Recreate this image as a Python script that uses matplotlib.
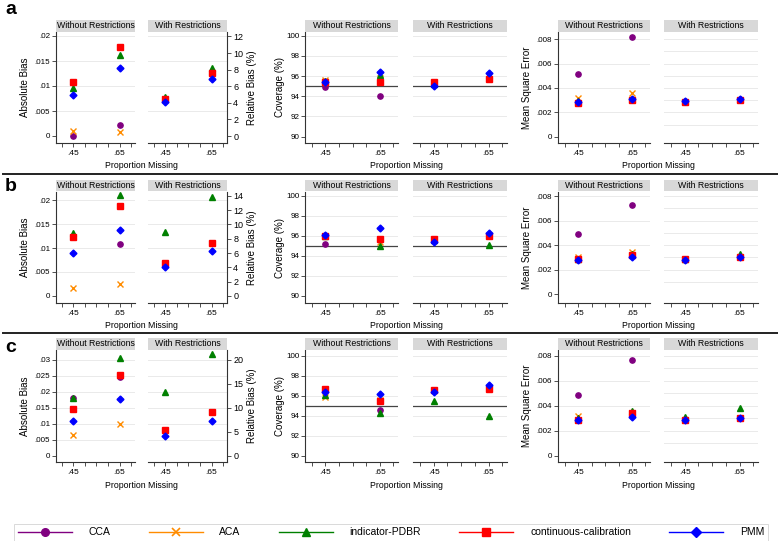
import matplotlib
matplotlib.use("Agg")
import matplotlib.pyplot as plt
from matplotlib.lines import Line2D
import numpy as np

plt.rcParams['font.family'] = ['Liberation Sans', 'DejaVu Sans']

W, H = 778, 541

methods = ["CCA", "ACA", "indicator-PDBR", "continuous-calibration", "PMM"]
colors = ["#800080", "#ff8c00", "#008000", "#ff0000", "#0000ff"]
markers = ["o", "x", "^", "s", "D"]
props = [0.45, 0.65]

# each list: one [p=.45, p=.65] pair per method (None = not shown)
bias_a_wo = [[0.0000, 0.0023], [0.0010, 0.0008], [0.0096, 0.0163], [0.0109, 0.0178], [0.0082, 0.0136]]
bias_a_w = [None, None, [0.0079, 0.0137], [0.0075, 0.0127], [0.0068, 0.0114]]
cov_a_wo = [[94.87, 94.06], [95.60, 95.82], [95.50, 96.10], [95.45, 95.40], [95.45, 96.38]]
cov_a_w = [None, None, [95.20, 96.15], [95.40, 95.75], [95.03, 96.27]]
mse_a_wo = [[0.00518, 0.00820], [0.00318, 0.00359], [0.00290, 0.00310], [0.00280, 0.00305], [0.00283, 0.00308]]
mse_a_w = [None, None, [0.00290, 0.00310], [0.00283, 0.00305], [0.00292, 0.00313]]

bias_b_wo = [[0.0122, 0.0108], [0.0017, 0.0024], [0.0131, 0.0210], [0.0122, 0.0188], [0.0089, 0.0138]]
bias_b_w = [None, None, [0.0133, 0.0206], [0.0069, 0.0110], [0.0060, 0.0094]]
cov_b_wo = [[95.20, 95.60], [95.95, 95.40], [96.00, 95.03], [96.00, 95.66], [96.10, 96.80]]
cov_b_w = [None, None, [95.60, 95.13], [95.70, 96.00], [95.43, 96.26]]
mse_b_wo = [[0.00488, 0.00725], [0.00305, 0.00348], [0.00290, 0.00330], [0.00290, 0.00320], [0.00280, 0.00300]]
mse_b_w = [None, None, [0.00290, 0.00330], [0.00285, 0.00300], [0.00280, 0.00300]]

bias_c_wo = [[0.0180, 0.0245], [0.0064, 0.0100], [0.0180, 0.0305], [0.0145, 0.0252], [0.0108, 0.0178]]
bias_c_w = [None, None, [0.0198, 0.0317], [0.0081, 0.0138], [0.0061, 0.0108]]
cov_c_wo = [[96.55, 94.53], [95.83, 95.60], [96.07, 94.23], [96.63, 95.43], [96.40, 96.20]]
cov_c_w = [None, None, [95.47, 93.97], [96.60, 96.68], [96.40, 97.10]]
mse_c_wo = [[0.00485, 0.00765], [0.00317, 0.00340], [0.00300, 0.00355], [0.00290, 0.00339], [0.00283, 0.00307]]
mse_c_w = [None, None, [0.00312, 0.00379], [0.00290, 0.00300], [0.00283, 0.00304]]

# relative bias (%) per unit of absolute bias, one per scenario
rel_factor = {"a": 603.0, "b": 670.0, "c": 667.0}

fig = plt.figure(figsize=(W / 100, H / 100), dpi=100)


def pax(x0, y0, x1, y1):
    return fig.add_axes([x0 / W, 1 - y1 / H, (x1 - x0) / W, (y1 - y0) / H])


def fmt(v):
    s = f"{round(v, 6):g}"
    return s[1:] if s.startswith("0.") else s


def draw(ax, series):
    for vals, c, m in zip(series, colors, markers):
        if vals is None:
            continue
        if m == "x":
            ax.plot(props, vals, ls="none", marker=m, color=c, ms=4.0, mew=1.0, zorder=3)
        else:
            ms = 3.5 if m == "D" else 3.8
            ax.plot(props, vals, ls="none", marker=m, color=c, ms=ms, mec=c, zorder=3)


def style(ax, left, ylim, grid, yticks=None):
    ax.set_xlim(0.375, 0.717)
    ax.set_ylim(*ylim)
    ax.set_xticks(props)
    ax.set_xticklabels([fmt(p) for p in props])
    ax.set_xticks([0.40, 0.50, 0.55, 0.60, 0.70], minor=True)
    ax.tick_params(axis="x", which="both", direction="out", length=3, width=0.6,
                   labelsize=6, pad=2, color="#333333")
    for s in ["top", "right"]:
        ax.spines[s].set_visible(False)
    ax.spines["bottom"].set_linewidth(0.8)
    ax.spines["bottom"].set_color("#333333")
    if left:
        ax.spines["left"].set_linewidth(0.8)
        ax.spines["left"].set_color("#333333")
        ax.set_yticks(yticks)
        ax.set_yticklabels([fmt(t) for t in yticks])
        ax.tick_params(axis="y", direction="out", length=3, width=0.6, labelsize=5.8,
                       pad=1.2, color="#333333")
    else:
        ax.spines["left"].set_visible(False)
        ax.set_yticks([])
    for g in grid:
        ax.axhline(g, color="#eaeaea", lw=0.7, zorder=0)


def strip(x0, x1, y0, y1, text):
    sa = pax(x0, y0, x1, y1)
    sa.set_facecolor("#d8d8d8")
    sa.set_xticks([])
    sa.set_yticks([])
    for s in sa.spines.values():
        s.set_visible(False)
    sa.text(0.5, 0.5, text, ha="center", va="center", fontsize=6.3, transform=sa.transAxes)


rows = [
    ("a", 9, 32, 143, bias_a_wo, bias_a_w, cov_a_wo, cov_a_w, mse_a_wo, mse_a_w,
     (-0.0014, 0.0208), [0, 0.005, 0.01, 0.015, 0.02], [0, 2, 4, 6, 8, 10, 12],
     (89.37, 100.37), (-0.00052, 0.0086)),
    ("b", 187, 192, 303, bias_b_wo, bias_b_w, cov_b_wo, cov_b_w, mse_b_wo, mse_b_w,
     (-0.00146, 0.02167), [0, 0.005, 0.01, 0.015, 0.02], [0, 2, 4, 6, 8, 10, 12, 14],
     (89.3, 100.37), (-0.00071, 0.00833)),
    ("c", 347, 350, 462, bias_c_wo, bias_c_w, cov_c_wo, cov_c_w, mse_c_wo, mse_c_w,
     (-0.002, 0.0331), [0, 0.005, 0.01, 0.015, 0.02, 0.025, 0.03], [0, 5, 10, 15, 20],
     (89.37, 100.57), (-0.0005, 0.00846)),
]

bias_cols = [(56, 135), (148, 227)]
cov_cols = [(305, 398), (413, 507)]
mse_cols = [(558, 650), (664, 758)]
cov_ticks = [90, 92, 94, 96, 98, 100]
mse_ticks = [0, 0.002, 0.004, 0.006, 0.008]

for (letter, ly, top, bot, bwo, bw, cwo, cw, mwo, mw,
     bylim, bticks, rticks, cylim, mylim) in rows:
    fig.text(5 / W, 1 - ly / H, letter, fontsize=14, fontweight="bold",
             ha="left", va="center")
    k = rel_factor[letter]

    for cols, data, ylim, ticks, grid_w in [
        (bias_cols, (bwo, bw), bylim, bticks, bticks[1:]),
        (cov_cols, (cwo, cw), cylim, cov_ticks, cov_ticks[1:]),
        (mse_cols, (mwo, mw), mylim, mse_ticks, list(np.arange(0.001, 0.0081, 0.001))),
    ]:
        for j, ((x0, x1), series) in enumerate(zip(cols, data)):
            ax = pax(x0, top, x1, bot)
            strip(x0, x1, top - 12, top - 0.5,
                  "Without Restrictions" if j == 0 else "With Restrictions")
            if j == 0:
                style(ax, True, ylim, ticks[1:], ticks)
            else:
                style(ax, False, ylim, grid_w)
            if cols is cov_cols:
                ax.axhline(95, color="#444444", lw=0.9, zorder=1)
            draw(ax, series)
            if cols is bias_cols and j == 1:
                sec = ax.secondary_yaxis("right", functions=(lambda y, k=k: y * k,
                                                             lambda y, k=k: y / k))
                sec.set_yticks(rticks)
                sec.set_yticklabels([fmt(t) for t in rticks])
                sec.tick_params(direction="out", length=3, width=0.6, labelsize=6.5,
                                pad=1.5, color="#333333")
                sec.spines["right"].set_linewidth(0.8)
                sec.spines["right"].set_color("#333333")
        xm = (cols[0][0] + cols[1][1]) / 2
        fig.text(xm / W, 1 - (bot + 23) / H, "Proportion Missing", fontsize=6.3,
                 ha="center", va="center")

    ym = 1 - (top + bot) / 2 / H
    fig.text(25 / W, ym, "Absolute Bias", rotation=90, fontsize=7, ha="center", va="center")
    fig.text(252 / W, ym, "Relative Bias (%)", rotation=90, fontsize=7, ha="center", va="center")
    fig.text(280 / W, ym, "Coverage (%)", rotation=90, fontsize=7, ha="center", va="center")
    fig.text(527 / W, ym, "Mean Square Error", rotation=90, fontsize=7, ha="center", va="center")

# row separators
for y in [174, 333]:
    fig.add_artist(Line2D([0.004, 1.0], [1 - y / H, 1 - y / H], color="#222222", lw=1.4))

handles = [Line2D([], [], color=c, marker=m, lw=1.0, ms=5.5, mew=1.2 if m == "x" else 1)
           for c, m in zip(colors, markers)]
leg = fig.legend(handles, methods, loc="lower left", ncol=5, mode="expand",
                 bbox_to_anchor=(14 / W, 1 - 541 / H, 754 / W, 22 / H),
                 fontsize=7.5, handlelength=5.2, handletextpad=1.6, frameon=True,
                 fancybox=False, borderaxespad=0, borderpad=0.35)
leg.get_frame().set_edgecolor("#d0d0d0")
leg.get_frame().set_linewidth(0.7)

fig.savefig("out.png", dpi=100)
